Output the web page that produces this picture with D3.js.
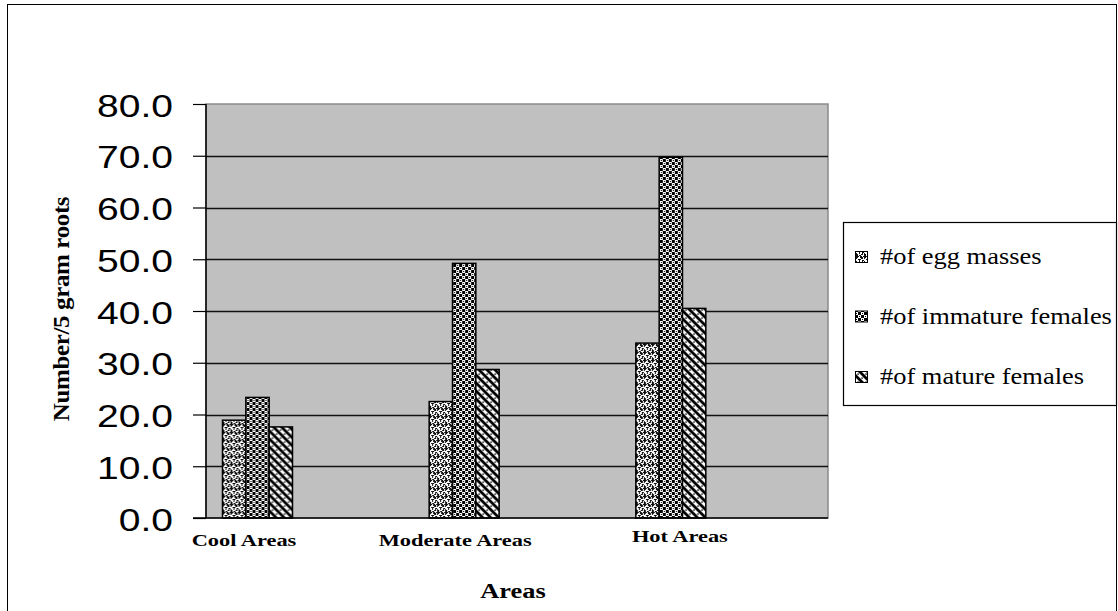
<!DOCTYPE html>
<html>
<head>
<meta charset="utf-8">
<script src="https://cdn.jsdelivr.net/npm/d3@7"></script>
<style>
  html, body { margin: 0; padding: 0; background: #fff; }
  svg { display: block; }
</style>
</head>
<body>
<svg id="chart" width="1118" height="611"></svg>
<script>
// Nematode counts per 5 g of roots, by area
const categories = ["Cool Areas", "Moderate Areas", "Hot Areas"];
const seriesNames = ["#of egg masses", "#of immature females", "#of mature females"];
const eggMasses = [18.9, 22.5, 33.8];
const immatureFemales = [23.3, 49.2, 69.7];
const matureFemales = [17.6, 28.7, 40.5];
const yTicks = [0, 10, 20, 30, 40, 50, 60, 70, 80];

const seriesValues = [eggMasses, immatureFemales, matureFemales];
const patternIds = ["pat-egg", "pat-immature", "pat-mature"];

const svg = d3.select("#chart");

// Plot area geometry
const plot = { left: 206, right: 828, top: 104, bottom: 518 };
const groupOffset = 14.5, groupWidth = 70;
const serif = "'Liberation Serif', 'Times New Roman', Times, serif";
const sans = "'Liberation Sans', Arial, Helvetica, sans-serif";

// Fill patterns
const defs = svg.append("defs");

// egg masses: irregular dark squiggles on white
const pEgg = defs.append("pattern").attr("id", "pat-egg")
  .attr("patternUnits", "userSpaceOnUse").attr("width", 8).attr("height", 8);
pEgg.append("rect").attr("width", 8).attr("height", 8).attr("fill", "#fff");
pEgg.append("path")
  .attr("d", "M0,0h3v1h-2v2h-1z M4,0h2v1h1v2h-1v-1h-2z M2,3h3v1h-1v2h-1v-2h-1z M6,4h2v1h-1v2h-2v-1h1z M0,5h1v1h1v2h-2z M3,7h2v1h-2z M7,0h1v1h-1z M5,2h1v1h-1z M1,1h1v1h-1z")
  .attr("fill", "#111");

// immature females: checkerboard with dots in the light cells
const pImm = defs.append("pattern").attr("id", "pat-immature")
  .attr("patternUnits", "userSpaceOnUse").attr("width", 6).attr("height", 6);
pImm.append("rect").attr("width", 6).attr("height", 6).attr("fill", "#fff");
pImm.append("path").attr("d", "M0,0h3v3h-3z M3,3h3v3h-3z M4,1h1v1h-1z M1,4h1v1h-1z")
  .attr("fill", "#000");

// mature females: backslash stripes with dots between
const pMat = defs.append("pattern").attr("id", "pat-mature")
  .attr("patternUnits", "userSpaceOnUse").attr("width", 8).attr("height", 8);
pMat.append("rect").attr("width", 8).attr("height", 8).attr("fill", "#fff");
pMat.append("path").attr("d", "M-2,-2 L10,10 M-2,6 L2,10 M6,-2 L10,2")
  .attr("stroke", "#000").attr("stroke-width", 2.8);
pMat.append("rect").attr("x", 5.4).attr("y", 1.4).attr("width", 1.4).attr("height", 1.4).attr("fill", "#000");
pMat.append("rect").attr("x", 1.4).attr("y", 5.4).attr("width", 1.4).attr("height", 1.4).attr("fill", "#000");

// Outer chart border
svg.append("rect").attr("x", 7.5).attr("y", 4.5).attr("width", 1109).attr("height", 700)
  .attr("fill", "#fff").attr("stroke", "#000").attr("stroke-width", 1);

// Scales
const x = d3.scaleBand().domain(categories).range([plot.left + 2, plot.right]).padding(0);
const xSub = d3.scaleBand().domain(seriesNames).range([0, groupWidth]).padding(0);
const y = d3.scaleLinear().domain([0, 80]).range([plot.bottom, plot.top]);

// Plot background
svg.append("rect")
  .attr("x", plot.left).attr("y", plot.top)
  .attr("width", plot.right - plot.left).attr("height", plot.bottom - plot.top)
  .attr("fill", "#c0c0c0").attr("stroke", "#8a8a8a").attr("stroke-width", 1.5);

// Horizontal gridlines
svg.append("g").selectAll("line").data(yTicks.filter(t => t > 0 && t < 80)).join("line")
  .attr("x1", plot.left).attr("x2", plot.right)
  .attr("y1", d => Math.round(y(d)) + 0.5).attr("y2", d => Math.round(y(d)) + 0.5)
  .attr("stroke", "#111").attr("stroke-width", 1.3);

// Bars
const groups = svg.append("g").selectAll("g").data(categories).join("g")
  .attr("transform", d => `translate(${x(d) + groupOffset},0)`);
groups.selectAll("rect")
  .data((c, ci) => seriesNames.map((s, si) => ({ s, si, v: seriesValues[si][ci] })))
  .join("rect")
  .attr("x", d => xSub(d.s))
  .attr("y", d => y(d.v))
  .attr("width", xSub.bandwidth())
  .attr("height", d => y(0) - y(d.v))
  .attr("fill", d => `url(#${patternIds[d.si]})`)
  .attr("stroke", "#000").attr("stroke-width", 1.5);

// Y axis
const yAxis = d3.axisLeft(y).tickValues(yTicks).tickSize(13).tickPadding(0)
  .tickFormat(d3.format(".1f"));
const gy = svg.append("g").attr("transform", `translate(${plot.left},0)`).call(yAxis);
gy.select(".domain").remove();
gy.selectAll(".tick line").attr("stroke", "#000").attr("stroke-width", 1.2);
gy.selectAll(".tick text")
  .attr("font-family", sans)
  .attr("font-size", 31).attr("fill", "#000")
  .attr("dy", null).attr("y", 12)
  .attr("x", -33 / 1.26)
  .attr("transform", "scale(1.26,1)");
svg.append("line").attr("x1", plot.left).attr("x2", plot.left)
  .attr("y1", plot.top).attr("y2", plot.bottom).attr("stroke", "#000").attr("stroke-width", 1.5);
svg.append("line").attr("x1", plot.left - 13).attr("x2", plot.right)
  .attr("y1", plot.bottom).attr("y2", plot.bottom).attr("stroke", "#000").attr("stroke-width", 1.5);

// Category labels
const labelNudge = [-13.5, -9, 9];
const labelLift = [0, 0, -4];
categories.forEach((c, i) => {
  const cx = x(c) + groupOffset + groupWidth / 2 + labelNudge[i];
  svg.append("text")
    .attr("transform", `translate(${cx},${546 + labelLift[i]}) scale(1.28,1)`)
    .attr("text-anchor", "middle")
    .attr("font-family", serif)
    .attr("font-weight", "bold").attr("font-size", 17.5)
    .text(c);
});

// Axis titles
svg.append("text")
  .attr("transform", "translate(513,598) scale(1.2,1)")
  .attr("text-anchor", "middle")
  .attr("font-family", serif)
  .attr("font-weight", "bold").attr("font-size", 22)
  .text("Areas");
svg.append("text")
  .attr("transform", "translate(69,309) rotate(-90) scale(1.06,1)")
  .attr("text-anchor", "middle")
  .attr("font-family", serif)
  .attr("font-weight", "bold").attr("font-size", 23.5)
  .attr("letter-spacing", -0.3)
  .text("Number/5 gram roots");

// Legend
const legend = svg.append("g");
legend.append("rect").attr("x", 843.5).attr("y", 222.5).attr("width", 273).attr("height", 183)
  .attr("fill", "#fff").attr("stroke", "#000").attr("stroke-width", 1.2);
const legendRows = [264, 323.5, 384];
seriesNames.forEach((s, i) => {
  legend.append("rect")
    .attr("x", 855.5).attr("y", legendRows[i] - 12.5).attr("width", 12).attr("height", 11)
    .attr("fill", `url(#${patternIds[i]})`).attr("stroke", "#000").attr("stroke-width", 1);
  legend.append("text")
    .attr("transform", `translate(880,${legendRows[i]}) scale(1.15,1)`)
    .attr("font-family", serif)
    .attr("font-size", 23)
    .text(s);
});
</script>
</body>
</html>
